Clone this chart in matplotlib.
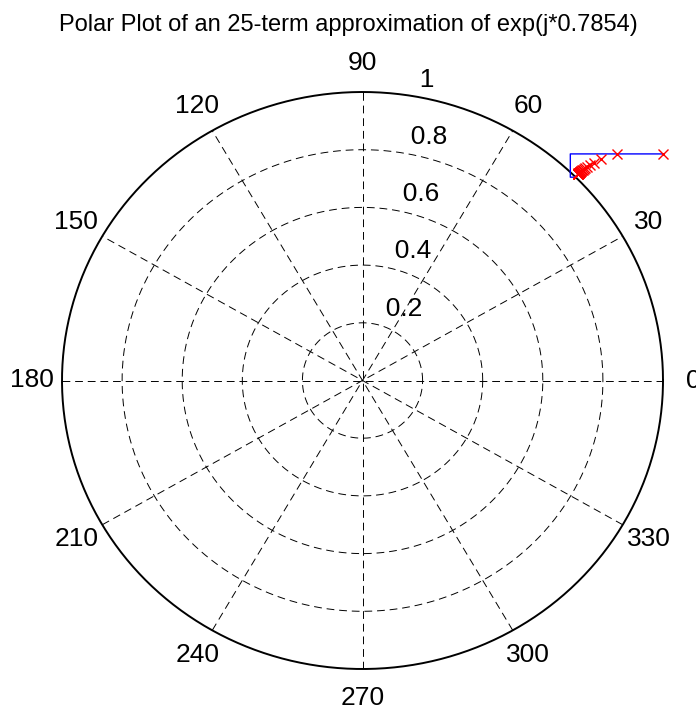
import numpy as np
import matplotlib
matplotlib.use('Agg')
import matplotlib.pyplot as plt

plt.rcParams['font.family'] = ['Liberation Sans', 'DejaVu Sans']

title_text = 'Polar Plot of an 25-term approximation of exp(j*0.7854)'

# partial sums of the Taylor series (terms 0..k, k = 1..25): real / imag parts
taylor_re = [1.0, 0.691575, 0.691575, 0.707429, 0.707429, 0.707103, 0.707103,
             0.707107, 0.707107, 0.707107, 0.707107, 0.707107, 0.707107,
             0.707107, 0.707107, 0.707107, 0.707107, 0.707107, 0.707107,
             0.707107, 0.707107, 0.707107, 0.707107, 0.707107, 0.707107]
taylor_im = [0.785398, 0.785398, 0.704652, 0.704652, 0.707143, 0.707143,
             0.707106, 0.707107, 0.707107, 0.707107, 0.707107, 0.707107,
             0.707107, 0.707107, 0.707107, 0.707107, 0.707107, 0.707107,
             0.707107, 0.707107, 0.707107, 0.707107, 0.707107, 0.707107,
             0.707107]

# (1 + j*x/n)^n, n = 1..25
limit_re = [1.0, 0.845787, 0.794383, 0.770168, 0.756304, 0.747375, 0.741168,
            0.736607, 0.733117, 0.730359, 0.728152, 0.726291, 0.724745,
            0.723428, 0.722294, 0.721308, 0.720441, 0.719674, 0.718990,
            0.718376, 0.717824, 0.717323, 0.716866, 0.716448, 0.716065]
limit_im = [0.785398, 0.785398, 0.767454, 0.755118, 0.746736, 0.740772,
            0.736342, 0.732920, 0.730208, 0.728013, 0.726211, 0.724665,
            0.723361, 0.722236, 0.721259, 0.720399, 0.719637, 0.718958,
            0.718348, 0.717797, 0.717298, 0.716845, 0.716428, 0.716047,
            0.715694]

angle_ticks = [0, 30, 60, 90, 120, 150, 180, 210, 240, 270, 300, 330]
rho_ticks = [0.2, 0.4, 0.6, 0.8, 1.0]
rho_labels = ['0.2', '0.4', '0.6', '0.8', '1']

fig = plt.figure(figsize=(6.96, 7.10), dpi=100)
ax = fig.add_axes([62 / 696, 41 / 710, 601 / 696, 577 / 710])
ax.set_xlim(-1, 1)
ax.set_ylim(-1, 1)
ax.axis('off')

t = np.linspace(0, 2 * np.pi, 400)
dash = (0, (8, 5))
for r in rho_ticks[:-1]:
    ax.plot(r * np.cos(t), r * np.sin(t), color='black', lw=0.7,
            linestyle=dash)
ax.plot(np.cos(t), np.sin(t), color='black', lw=1.4, clip_on=False)

for a in angle_ticks[:6]:
    c, s = np.cos(np.radians(a)), np.sin(np.radians(a))
    ax.plot([-c, c], [-s, s], color='black', lw=0.7, linestyle=dash)

for a in angle_ticks:
    c, s = np.cos(np.radians(a)), np.sin(np.radians(a))
    ax.text(1.1 * c, 1.1 * s, str(a), ha='center', va='center',
            fontsize=19, clip_on=False)

c82, s82 = np.cos(np.radians(82)), np.sin(np.radians(82))
for r, lab in zip(rho_ticks, rho_labels):
    ax.text((r + 0.01) * c82, (r + 0.01) * s82, '  ' + lab,
            ha='left', va='bottom', fontsize=19)

ax.plot(taylor_re, taylor_im, color='blue', lw=1.0, clip_on=False)
ax.plot(limit_re, limit_im, linestyle='none', marker='x', color='red',
        markersize=7, markeredgewidth=1.0, clip_on=False)

fig.text(0.5, 1 - 25 / 710, title_text, ha='center', va='center',
         fontsize=17)

fig.savefig('out.png', dpi=100)
